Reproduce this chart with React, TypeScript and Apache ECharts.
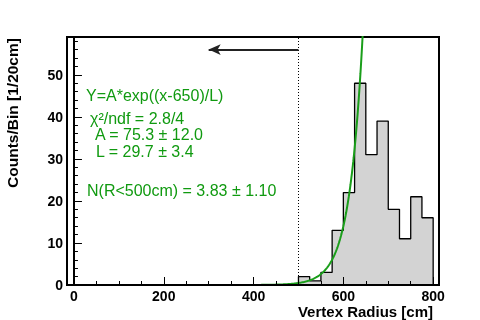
import React, { useEffect, useRef } from "react";
import * as echarts from "echarts";

// Histogram: bins of 25 cm starting at each edge
const binStarts = [500, 525, 550, 575, 600, 625, 650, 675, 700, 725, 750, 775];
const binCounts = [2, 1, 3, 13, 22, 48, 31, 39, 18, 11, 21, 16];
const binWidth = 25;

// Fit parameters shown in the legend text
const fitA = 75.3;
const fitL = 29.7;
const fitX0 = 650;
const fitRange = [400, 660];

const xMajorTicks = [0, 200, 400, 600, 800];
const xMinorTicks = [50, 100, 150, 250, 300, 350, 450, 500, 550, 650, 700, 750];

const cutX = 500;
const arrowFrom = [500, 56];
const arrowTo = [300, 56];

const fitTexts = [
  { text: "Y=A*exp((x-650)/L)", x: 86, y: 95 },
  { text: "χ²/ndf = 2.8/4", x: 90, y: 118 },
  { text: "A = 75.3 ± 12.0", x: 95, y: 134 },
  { text: "L = 29.7 ± 3.4", x: 96, y: 151 },
  { text: "N(R<500cm) = 3.83 ± 1.10", x: 87, y: 190 },
];

const GREEN = "#109a10";
const FONT = "Liberation Sans, Arial, Helvetica, sans-serif";

export default function App() {
  const ref = useRef<HTMLDivElement>(null);
  useEffect(() => {
    if (!ref.current) return;
    const chart = echarts.init(ref.current, undefined, { renderer: "svg" });

    const stepData: number[][] = [[binStarts[0], 0]];
    binStarts.forEach((s, i) => stepData.push([s, binCounts[i]]));
    const lastEnd = binStarts[binStarts.length - 1] + binWidth;
    stepData.push([lastEnd, binCounts[binCounts.length - 1]]);
    stepData.push([lastEnd, 0]);

    const fitData: number[][] = [];
    for (let x = fitRange[0]; x <= fitRange[1]; x += 1) {
      fitData.push([x, fitA * Math.exp((x - fitX0) / fitL)]);
    }

    const xMin = -15.5;
    const xMax = 813;

    chart.setOption({
      animation: false,
      grid: {
        left: 67,
        right: 41,
        top: 37,
        bottom: 35,
        show: true,
        borderColor: "#000",
        borderWidth: 2,
        backgroundColor: "transparent",
      },
      xAxis: [
        {
          type: "value",
          min: xMin,
          max: xMax,
          position: "bottom",
          z: 10,
          splitLine: { show: false },
          axisLine: { show: true, onZero: false, lineStyle: { color: "#000", width: 2 } },
          axisTick: {
            show: true,
            inside: true,
            length: 8,
            customValues: xMajorTicks,
            lineStyle: { color: "#000", width: 1 },
          },
          axisLabel: {
            customValues: xMajorTicks,
            color: "#000",
            fontFamily: FONT,
            fontWeight: "bold",
            fontSize: 14,
            margin: 4,
          },
        },
        {
          type: "value",
          min: xMin,
          max: xMax,
          position: "bottom",
          z: 10,
          splitLine: { show: false },
          axisLine: { show: false },
          axisTick: {
            show: true,
            inside: true,
            length: 4,
            customValues: xMinorTicks,
            lineStyle: { color: "#000", width: 1 },
          },
          axisLabel: { show: false },
        },
      ],
      yAxis: {
        type: "value",
        min: 0,
        max: 59,
        interval: 10,
        z: 10,
        splitLine: { show: false },
        axisLine: { show: true, lineStyle: { color: "#000", width: 2 } },
        axisTick: { show: true, inside: true, length: 8, lineStyle: { color: "#000" } },
        minorTick: { show: true, splitNumber: 5, length: 4, lineStyle: { color: "#000" } },
        axisLabel: {
          color: "#000",
          fontFamily: FONT,
          fontWeight: "bold",
          fontSize: 14,
          margin: 4,
          showMaxLabel: false,
        },
      },
      series: [
        {
          type: "line",
          xAxisIndex: 0,
          step: "end",
          data: stepData,
          showSymbol: false,
          symbol: "none",
          lineStyle: { color: "#000", width: 1.3 },
          areaStyle: { color: "#d3d3d3", opacity: 1 },
          markLine: {
            silent: true,
            symbol: "none",
            label: { show: false },
            lineStyle: { color: "#000", width: 1, type: [1, 2] },
            data: [{ xAxis: cutX }],
          },
        },
        {
          type: "line",
          xAxisIndex: 0,
          data: fitData,
          showSymbol: false,
          symbol: "none",
          smooth: false,
          lineStyle: { color: "#1a9e1a", width: 2 },
          markLine: {
            silent: true,
            label: { show: false },
            symbol: ["none", "arrow"],
            symbolSize: [8, 12],
            lineStyle: { color: "#222", width: 2, type: "solid" },
            data: [[{ coord: arrowFrom }, { coord: arrowTo }]],
          },
        },
      ],
      graphic: [
        ...fitTexts.map((t) => ({
          type: "text",
          x: t.x,
          y: t.y,
          style: {
            text: t.text,
            fill: GREEN,
            font: `16px ${FONT}`,
            textVerticalAlign: "middle",
          },
        })),
        {
          type: "text",
          x: 12,
          y: 113,
          rotation: Math.PI / 2,
          style: {
            text: "Counts/Bin [1/20cm]",
            fill: "#000",
            font: `bold 15.5px ${FONT}`,
            textAlign: "center",
            textVerticalAlign: "middle",
          },
        },
        {
          type: "text",
          x: 433,
          y: 311,
          style: {
            text: "Vertex Radius [cm]",
            fill: "#000",
            font: `bold 15px ${FONT}`,
            textAlign: "right",
            textVerticalAlign: "middle",
          },
        },
      ],
    });
    return () => chart.dispose();
  }, []);
  return (
    <div
      ref={ref}
      style={{ position: "fixed", left: 0, top: 0, width: 480, height: 320 }}
    />
  );
}
